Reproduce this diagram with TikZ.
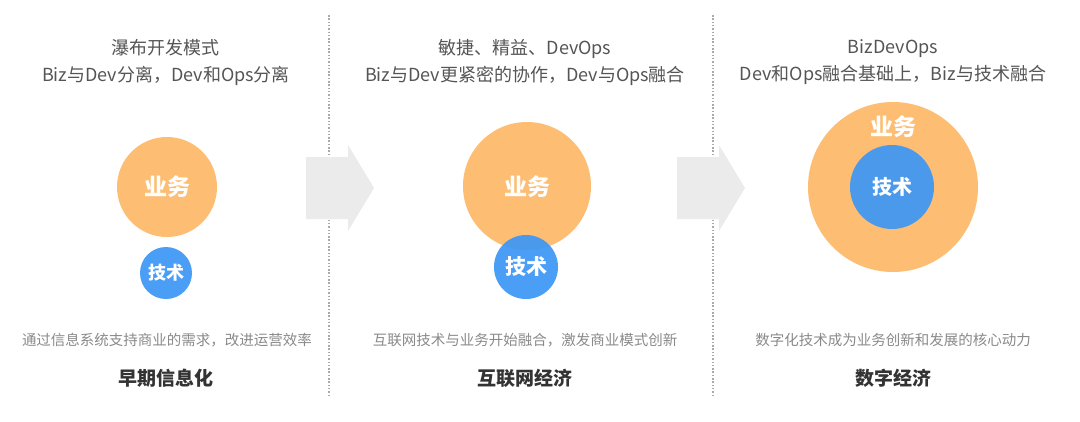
\documentclass[tikz,border=0pt]{standalone}
\usepackage{fontspec}
\setmainfont{Noto Sans CJK SC}
\definecolor{orangec}{HTML}{FDBE74}
\definecolor{bluec}{HTML}{3D97F5}
\definecolor{arrowc}{HTML}{EBEBEB}
\definecolor{titlec}{HTML}{555555}
\definecolor{subc}{HTML}{8A8A8A}
\definecolor{headc}{HTML}{333333}
\definecolor{sepc}{HTML}{AAAAAA}
\tikzset{
  titletext/.style={text=titlec, font=\fontsize{18}{27}\selectfont, align=center, inner sep=0pt},
  subtext/.style={text=subc, font=\fontsize{14.5}{16}\selectfont, inner sep=0pt},
  headtext/.style={text=headc, font=\fontsize{19}{22}\selectfont\bfseries, inner sep=0pt},
  orangecircle/.style={circle, fill=orangec, draw=none, inner sep=0pt},
  bluecircle/.style={circle, fill=bluec, fill opacity=0.93, text opacity=1, draw=none, inner sep=0pt},
  circtext/.style={text=white, font=\fontsize{23}{25}\selectfont\bfseries},
  sepline/.style={draw=sepc, line width=1.2pt, dash pattern=on 1.5pt off 1.8pt},
  blockarrow/.style={fill=arrowc, draw=none}
}
\begin{document}
\begin{tikzpicture}[x=1pt,y=-1pt]
\useasboundingbox[fill=white] (0,0) rectangle (1080,421);
% separators
\coordinate (s1t) at (329,15); \coordinate (s1b) at (329,396);
\coordinate (s2t) at (713,15); \coordinate (s2b) at (713,396);
\draw[sepline] (s1t) -- (s1b);
\draw[sepline] (s2t) -- (s2b);
% arrows
\fill[blockarrow] (306,157) -- (348,157) -- (348,145) -- (374,188) -- (348,231) -- (348,219) -- (306,219) -- cycle;
\fill[blockarrow] (677,157) -- (719,157) -- (719,145) -- (745,188) -- (719,231) -- (719,219) -- (677,219) -- cycle;
% titles
\node[titletext] (t1) at (166,62) {瀑布开发模式\\Biz与Dev分离，Dev和Ops分离};
\node[titletext] (t2) at (525,62) {敏捷、精益、DevOps\\Biz与Dev更紧密的协作，Dev与Ops融合};
\node[titletext] (t3) at (893,62) {BizDevOps\\Dev和Ops融合基础上，Biz与技术融合};
% panel 1
\node[orangecircle, minimum size=100pt] (o1) at (167,187) {};
\node[circtext] (o1t) at (o1) {业务};
\node[bluecircle, minimum size=52pt] (b1) at (166,273) {};
\node[circtext, font=\fontsize{18}{20}\selectfont\bfseries] (b1t) at (b1) {技术};
% panel 2
\node[orangecircle, minimum size=128pt] (o2) at (527,186) {};
\node[circtext] (o2t) at (527,187) {业务};
\node[bluecircle, minimum size=64pt] (b2) at (526,267) {};
\node[circtext, font=\fontsize{21}{23}\selectfont\bfseries] (b2t) at (b2) {技术};
% panel 3
\node[orangecircle, minimum size=170pt] (o3) at (893,187) {};
\node[circtext] (o3t) at (893,127) {业务};
\node[bluecircle, minimum size=84pt] (b3) at (892,187) {};
\node[circtext, font=\fontsize{20}{22}\selectfont\bfseries] (b3t) at (b3) {技术};
% subtitles
\node[subtext] (u1) at (167,340) {通过信息系统支持商业的需求，改进运营效率};
\node[subtext] (u2) at (525,340) {互联网技术与业务开始融合，激发商业模式创新};
\node[subtext] (u3) at (893,340) {数字化技术成为业务创新和发展的核心动力};
% headings
\node[headtext] (h1) at (166,378) {早期信息化};
\node[headtext] (h2) at (525,378) {互联网经济};
\node[headtext] (h3) at (893,378) {数字经济};
\end{tikzpicture}
\end{document}
